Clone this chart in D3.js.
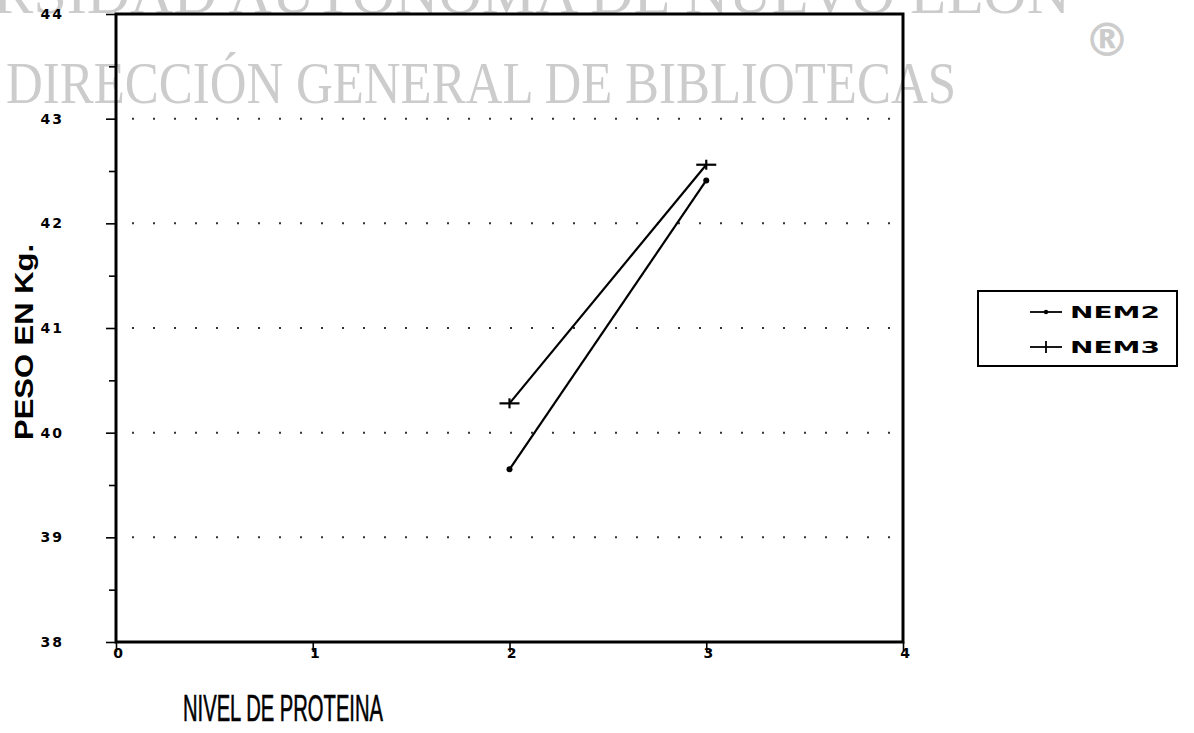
<!DOCTYPE html>
<html>
<head>
<meta charset="utf-8">
<script src="https://cdn.jsdelivr.net/npm/d3@7"></script>
<style>
  body { margin: 0; background: #fff; }
  svg { display: block; }
</style>
</head>
<body>
<div id="chart"></div>
<script>
const WIDTH = 1194;
const HEIGHT = 733;
const PLOT = { LEFT: 116, RIGHT: 903, TOP: 14, BOTTOM: 642 };

// data
var nivel = [2, 3];
var nem2 = [39.65, 42.41];
var nem3 = [40.28, 42.56];
var xTicks = [0, 1, 2, 3, 4];
var yTicks = [38, 39, 40, 41, 42, 43, 44];
var gridValues = [39, 40, 41, 42, 43];
var seriesNames = ["NEM2", "NEM3"];

var svg = d3.select("div#chart").append("svg")
    .attr("width", WIDTH)
    .attr("height", HEIGHT);

var x = d3.scaleLinear([0, 4], [PLOT.LEFT, PLOT.RIGHT]);
var y = d3.scaleLinear([38, 44], [PLOT.BOTTOM, PLOT.TOP]);

// watermark from the scanned page
var wm = svg.append("g")
    .attr("fill", "#cccccc")
    .style("font-family", "'Liberation Serif', 'DejaVu Serif', serif");
wm.append("text")
    .attr("x", 1070).attr("y", 13)
    .attr("text-anchor", "end")
    .style("font-size", "60px")
    .text("UNIVERSIDAD AUTÓNOMA DE NUEVO LEÓN");
wm.append("text")
    .attr("x", 6).attr("y", 103)
    .attr("textLength", 950)
    .attr("lengthAdjust", "spacingAndGlyphs")
    .style("font-size", "60px")
    .text("DIRECCIÓN GENERAL DE BIBLIOTECAS");
wm.append("text")
    .attr("x", 1107).attr("y", 56)
    .attr("text-anchor", "middle")
    .style("font-family", "'DejaVu Sans', sans-serif")
    .style("font-weight", "bold")
    .style("font-size", "46px")
    .text("®");

// dotted grid
svg.append("g")
    .selectAll("line")
    .data(gridValues)
    .join("line")
    .attr("x1", PLOT.LEFT + 16).attr("x2", PLOT.RIGHT - 4)
    .attr("y1", d => y(d)).attr("y2", d => y(d))
    .attr("stroke", "#333")
    .attr("stroke-width", 2)
    .attr("stroke-dasharray", "2,19");

// axes
var tickFont = "'DejaVu Sans', sans-serif";

svg.append("g")
    .attr("transform", `translate(${PLOT.LEFT},0)`)
    .call(d3.axisLeft(y).tickValues(d3.range(38, 44.01, 0.5)).tickSize(0).tickFormat(""))
    .call(g => g.select(".domain").remove())
    .call(g => g.selectAll(".tick line")
        .attr("x2", d => Number.isInteger(d) ? -10 : -7)
        .attr("stroke", "#000").attr("stroke-width", 1.6));

svg.append("g")
    .selectAll("text")
    .data(yTicks)
    .join("text")
    .attr("x", 64).attr("y", d => y(d) + 5)
    .attr("text-anchor", "end")
    .style("font-family", tickFont)
    .style("font-weight", "bold")
    .style("font-size", "14px")
    .style("letter-spacing", "2px")
    .text(d => d);

svg.append("g")
    .attr("transform", `translate(0,${PLOT.BOTTOM})`)
    .call(d3.axisBottom(x).tickValues(xTicks).tickSize(10).tickFormat(""))
    .call(g => g.select(".domain").remove())
    .call(g => g.selectAll(".tick line").attr("stroke", "#000").attr("stroke-width", 1.6));

svg.append("g")
    .selectAll("text")
    .data(xTicks)
    .join("text")
    .attr("x", d => x(d) + 2).attr("y", PLOT.BOTTOM + 16)
    .attr("text-anchor", "middle")
    .style("font-family", tickFont)
    .style("font-weight", "bold")
    .style("font-size", "14px")
    .text(d => d);

// frame
svg.append("rect")
    .attr("x", PLOT.LEFT).attr("y", PLOT.TOP)
    .attr("width", PLOT.RIGHT - PLOT.LEFT)
    .attr("height", PLOT.BOTTOM - PLOT.TOP)
    .attr("fill", "none")
    .attr("stroke", "#000")
    .attr("stroke-width", 3);

// axis titles
svg.append("text")
    .attr("transform", `translate(33,${(PLOT.TOP + PLOT.BOTTOM) / 2 + 14}) rotate(-90)`)
    .attr("text-anchor", "middle")
    .attr("textLength", 196)
    .attr("lengthAdjust", "spacingAndGlyphs")
    .style("font-family", "'Liberation Sans', Arial, sans-serif")
    .style("font-weight", "bold")
    .style("font-size", "25px")
    .text("PESO EN Kg.");

svg.append("text")
    .attr("x", 283).attr("y", 721)
    .attr("text-anchor", "middle")
    .attr("textLength", 200)
    .attr("lengthAdjust", "spacingAndGlyphs")
    .attr("stroke", "#000")
    .attr("stroke-width", 0.6)
    .style("font-family", "'Liberation Sans Narrow', 'Liberation Sans', sans-serif")
    .style("font-size", "36px")
    .text("NIVEL DE PROTEINA");

// series
var line = d3.line()
    .x(d => x(d[0]))
    .y(d => y(d[1]));

var series = [nem2, nem3].map(vals => nivel.map((n, i) => [n, vals[i]]));

svg.append("g")
    .attr("fill", "none")
    .attr("stroke", "#000")
    .attr("stroke-width", 2.2)
    .selectAll("path")
    .data(series)
    .join("path")
    .attr("d", line);

svg.append("g")
    .selectAll("circle")
    .data(series[0])
    .join("circle")
    .attr("cx", d => x(d[0])).attr("cy", d => y(d[1]))
    .attr("r", 3)
    .attr("fill", "#000");

var plus = svg.append("g")
    .attr("stroke", "#000")
    .attr("stroke-width", 2.2)
    .selectAll("g")
    .data(series[1])
    .join("g")
    .attr("transform", d => `translate(${x(d[0])},${y(d[1])})`);
plus.append("line").attr("x1", -10).attr("x2", 10);
plus.append("line").attr("y1", -5).attr("y2", 5);

// legend
var legend = svg.append("g");
legend.append("rect")
    .attr("x", 978).attr("y", 291)
    .attr("width", 199).attr("height", 75)
    .attr("fill", "#fff")
    .attr("stroke", "#000")
    .attr("stroke-width", 2);

var entry = legend.selectAll("g.entry")
    .data(seriesNames)
    .join("g")
    .attr("class", "entry")
    .attr("transform", (d, i) => `translate(1030,${312 + i * 35})`);
entry.append("line")
    .attr("x1", 0).attr("x2", 32)
    .attr("stroke", "#000").attr("stroke-width", 1.8);
entry.filter((d, i) => i === 0).append("circle")
    .attr("cx", 16).attr("r", 2.2).attr("fill", "#000");
entry.filter((d, i) => i === 1).append("line")
    .attr("x1", 16).attr("x2", 16).attr("y1", -6).attr("y2", 6)
    .attr("stroke", "#000").attr("stroke-width", 1.8);
entry.append("text")
    .attr("x", 40).attr("y", 6)
    .attr("textLength", 90)
    .attr("lengthAdjust", "spacingAndGlyphs")
    .style("font-family", tickFont)
    .style("font-weight", "bold")
    .style("font-size", "15px")
    .text(d => d);
</script>
</body>
</html>
